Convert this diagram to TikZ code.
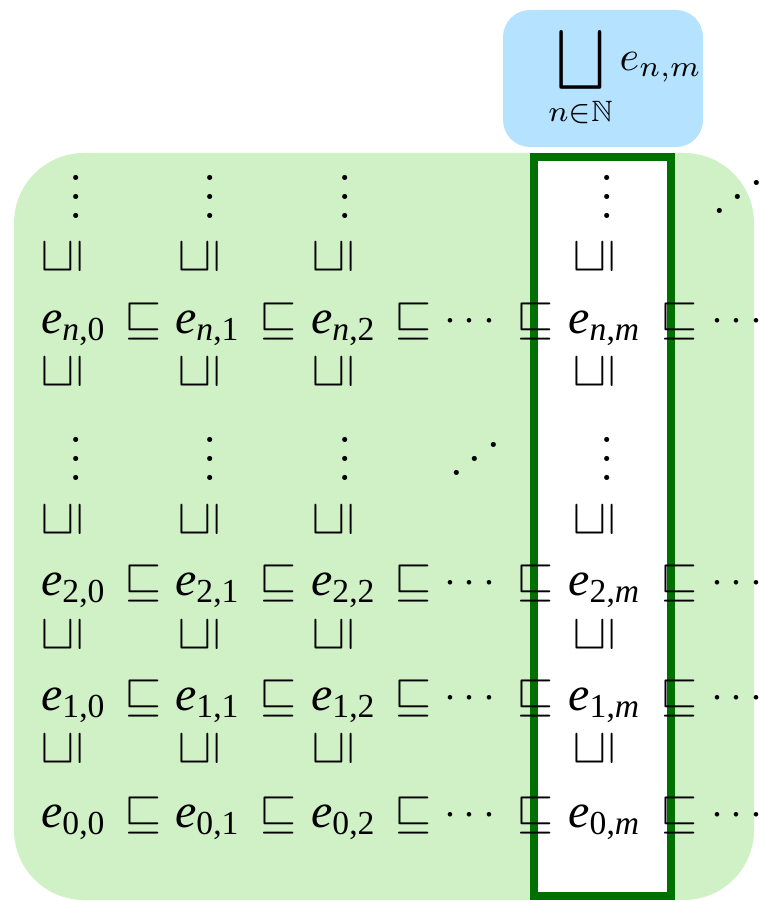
\documentclass[tikz,border=0pt]{standalone}
\usepackage{amssymb}
\usepackage{fontspec}
\newfontfamily\tms{Liberation Serif}
\definecolor{bgreen}{RGB}{208,241,198}
\definecolor{bblue}{RGB}{180,226,255}
\definecolor{dgreen}{RGB}{0,112,0}
\newcommand\ee[2]{{\tms\textit{e}\textsubscript{#1,#2}}}
\newcommand\nn{\textit{n}}
\newcommand\mm{\textit{m}}
\newcommand\myudots{\reflectbox{$\ddots$}}
\tikzset{
  relh/.style={inner sep=0pt, scale=4.8, anchor=base},
  relv/.style={inner sep=0pt, scale=4.8, rotate=90, anchor=center},
  elt/.style={inner sep=0pt, scale=4.8, anchor=base},
  hdots/.style={inner sep=0pt, scale=4.3, anchor=base},
  vdts/.style={inner sep=0pt, scale=4.8, anchor=base},
}
\begin{document}
\begin{tikzpicture}[x=1pt,y=-1pt]
\useasboundingbox (0,0) rectangle (761,901);
\fill[bgreen, rounded corners=70pt] (14,153) rectangle (754,900);
\fill[bblue, rounded corners=27pt] (503,10) rectangle (703,147);
\filldraw[fill=white, draw=dgreen, line width=8pt] (534,157) rectangle (671,896);
\node[inner sep=0pt, scale=4.2] (join) at (625,77) {$\displaystyle\bigsqcup_{n\in\mathbb{N}} e_{n,m}$};
% rows of elements
\foreach \y/\i/\t in {321/\nn/n, 583/2/2, 698/1/1, 815/0/0}{
  \node[elt] (e\t0) at (74,{\y+12}) {\ee{\i}{0}};
  \node[elt] (e\t1) at (208,{\y+12}) {\ee{\i}{1}};
  \node[elt] (e\t2) at (344,{\y+12}) {\ee{\i}{2}};
  \node[elt] (e\t m) at (605,{\y+12}) {\ee{\i}{\mm}};
  \foreach \x [count=\k] in {143,278,413,535,679}{
    \node[relh] (s\t\k) at (\x,{\y+12}) {$\sqsubseteq$};
  }
  \node[hdots] (c\t a) at (470,{\y+10.75}) {$\cdots$};
  \node[hdots] (c\t b) at (737,{\y+10.75}) {$\cdots$};
}
% vertical relations
\foreach \y [count=\r] in {257,372,520,635,749}{
  \foreach \x [count=\k] in {62,199,333,594}{
    \node[relv] (v\r\k) at (\x,\y) {$\sqsubseteq$};
  }
}
% vertical dots
\foreach \y [count=\r] in {197,459}{
  \foreach \x [count=\k] in {76,210,345,607}{
    \node[vdts] (d\r\k) at (\x,{\y+21.7}) {$\vdots$};
  }
}
\node[vdts] (u1) at (738,{197+21.7}) {\myudots};
\node[vdts] (u2) at (475,{459+21.7}) {\myudots};
\end{tikzpicture}
\end{document}
